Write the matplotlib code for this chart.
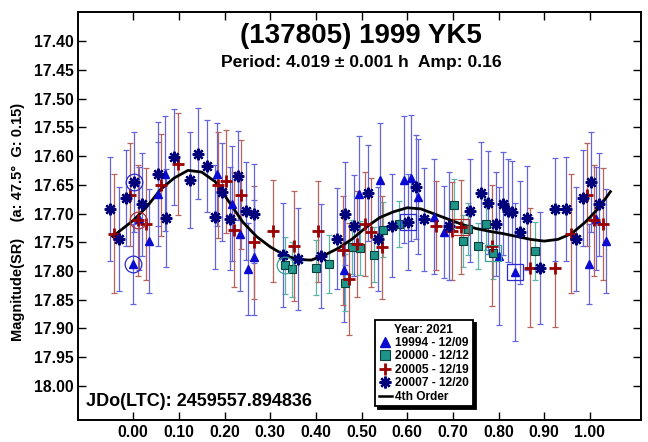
import numpy as np
import matplotlib
matplotlib.use("Agg")
import matplotlib.pyplot as plt
from matplotlib.lines import Line2D

plt.rcParams['font.family'] = ['Liberation Sans', 'DejaVu Sans']

# ---------------- data (phase, magnitude, error) ----------------
tri_phase = [0.013, 0.035, 0.054, 0.070, 0.184, 0.2155, 0.234, 0.252, 0.265, 0.4615,
             0.494, 0.541, 0.592, 0.6085, 0.623, 0.659, 0.680, 0.800, 0.836, 0.999]
tri_mag = [17.709, 17.748, 17.666, 17.631, 17.632, 17.683, 17.735, 17.797, 17.776, 17.798,
           17.666, 17.642, 17.641, 17.638, 17.671, 17.706, 17.733, 17.774, 17.802, 17.788]
tri_err = [0.09, 0.09, 0.09, 0.10, 0.09, 0.10, 0.10, 0.08, 0.10, 0.09,
           0.10, 0.10, 0.11, 0.11, 0.10, 0.10, 0.08, 0.12, 0.12, 0.07]

sq_phase = [0.332, 0.348, 0.400, 0.428, 0.463, 0.480, 0.496, 0.527, 0.5466, 0.581,
            0.703, 0.7214, 0.734, 0.7555, 0.772, 0.788, 0.880]
sq_mag = [17.790, 17.797, 17.794, 17.788, 17.820, 17.759, 17.760, 17.772, 17.728, 17.718,
          17.685, 17.748, 17.727, 17.756, 17.718, 17.769, 17.765]
sq_err = [0.050, 0.048, 0.048, 0.050, 0.050, 0.047, 0.047, 0.048, 0.048, 0.040,
          0.045, 0.045, 0.045, 0.040, 0.045, 0.045, 0.050]

plus_phase = [0.010, 0.028, 0.061, 0.097, 0.186, 0.203, 0.221, 0.237, 0.2655, 0.306,
              0.352, 0.4046, 0.459, 0.4716, 0.490, 0.507, 0.521, 0.544, 0.663, 0.699,
              0.717, 0.7846, 0.869, 0.924, 0.9585, 0.9934]
plus_mag = [17.712, 17.718, 17.650, 17.614, 17.650, 17.644, 17.728, 17.667, 17.750, 17.730,
            17.756, 17.731, 17.764, 17.814, 17.753, 17.718, 17.733, 17.759, 17.721, 17.730,
            17.724, 17.756, 17.794, 17.795, 17.735, 17.667]
plus_err = [0.097, 0.098, 0.089, 0.088, 0.092, 0.090, 0.100, 0.095, 0.098, 0.089,
            0.096, 0.088, 0.095, 0.097, 0.092, 0.090, 0.095, 0.089, 0.078, 0.085,
            0.082, 0.105, 0.104, 0.103, 0.104, 0.090]

ast_phase = [0.002, 0.019, 0.054, 0.071, 0.090, 0.124, 0.141, 0.161, 0.178, 0.195,
             0.212, 0.2285, 0.246, 0.264, 0.327, 0.361, 0.412, 0.446, 0.463, 0.4825,
             0.514, 0.536, 0.566, 0.601, 0.6194, 0.6376, 0.692, 0.738, 0.761, 0.778,
             0.7955, 0.810, 0.8217, 0.8297, 0.8465, 0.863, 0.891, 0.924, 0.948, 0.969, 0.985]
ast_mag = [17.645, 17.684, 17.631, 17.708, 17.602, 17.642, 17.596, 17.617, 17.706, 17.663,
           17.709, 17.634, 17.695, 17.700, 17.772, 17.779, 17.774, 17.744, 17.700, 17.721,
           17.664, 17.744, 17.721, 17.715, 17.654, 17.710, 17.721, 17.695, 17.664, 17.681,
           17.718, 17.683, 17.695, 17.698, 17.733, 17.708, 17.795, 17.693, 17.692, 17.744, 17.673]
ast_err = [0.087, 0.090, 0.090, 0.085, 0.084, 0.084, 0.079, 0.080, 0.090, 0.085,
           0.090, 0.078, 0.085, 0.086, 0.090, 0.089, 0.090, 0.088, 0.090, 0.088,
           0.083, 0.090, 0.089, 0.083, 0.090, 0.090, 0.094, 0.090, 0.088, 0.090,
           0.091, 0.090, 0.090, 0.090, 0.090, 0.090, 0.097, 0.090, 0.090, 0.090, 0.084]

# 4th order fit curve
fit_phase = [-0.045, 0.0, 0.03, 0.06, 0.09, 0.12, 0.15, 0.18, 0.21, 0.24, 0.27, 0.30,
             0.33, 0.36, 0.39, 0.42, 0.45, 0.48, 0.51, 0.54, 0.57, 0.60, 0.63, 0.66,
             0.69, 0.72, 0.75, 0.78, 0.81, 0.84, 0.87, 0.90, 0.93, 0.96, 0.99, 1.02, 1.045]
fit_mag = [17.740, 17.712, 17.688, 17.658, 17.638, 17.625, 17.628, 17.645, 17.680, 17.715,
           17.740, 17.758, 17.772, 17.780, 17.781, 17.772, 17.760, 17.744, 17.724, 17.707,
           17.697, 17.690, 17.692, 17.701, 17.710, 17.719, 17.726, 17.731, 17.735, 17.740,
           17.745, 17.748, 17.745, 17.735, 17.715, 17.690, 17.662]

# session start (circled) / end (boxed) markers
circ_x = [-0.001, 0.002, 0.010, 0.332]
circ_y = [17.788, 17.645, 17.712, 17.790]
circ_c = ['#2a2ad0', '#2a2ad0', '#b03030', '#3aa090']
box_x = [0.601, 0.836, 0.717, 0.788]
box_y = [17.715, 17.802, 17.724, 17.769]
box_c = ['#2a2ad0', '#2a2ad0', '#b03030', '#3aa090']

x_ticks = [0.0, 0.1, 0.2, 0.3, 0.4, 0.5, 0.6, 0.7, 0.8, 0.9, 1.0]
y_ticks = [17.40, 17.45, 17.50, 17.55, 17.60, 17.65, 17.70, 17.75, 17.80, 17.85, 17.90, 17.95, 18.00]

legend_labels = ['19994 - 12/09', '20000 - 12/12', '20005 - 12/19', '20007 - 12/20', '4th Order']


def wrap(ph, mag, err, lo=-0.055, hi=1.05):
    xs, ys, es = [], [], []
    for p, m, e in zip(ph, mag, err):
        for s in (-1, 0, 1):
            q = p + s
            if lo <= q <= hi:
                xs.append(q); ys.append(m); es.append(e)
    return xs, ys, es


fig = plt.figure(figsize=(6.48, 4.42), dpi=100)
ax_top, ax_bot = 12, 420
ax = fig.add_axes([78 / 648, 1 - ax_bot / 442, (641 - 78) / 648, (ax_bot - ax_top) / 442])

blue_m = '#0a0ad0'
navy_m = '#00007a'
red_m = '#9a0000'
teal_f = '#1f958a'
teal_e = '#0b3f3a'
blue_e = '#6464dc'
red_e = '#b8645a'
teal_eb = '#5cb6a8'

series = [
    (tri_phase, tri_mag, tri_err, blue_e),
    (sq_phase, sq_mag, sq_err, teal_eb),
    (plus_phase, plus_mag, plus_err, red_e),
    (ast_phase, ast_mag, ast_err, blue_e),
]
wrapped = []
for ph, mg, er, ec in series:
    xs, ys, es = wrap(ph, mg, er)
    wrapped.append((xs, ys))
    ax.errorbar(xs, ys, yerr=es, fmt='none', ecolor=ec, elinewidth=0.9,
                capsize=2.4, capthick=0.9, zorder=2)

ax.plot(fit_phase, fit_mag, color='black', lw=2.0, zorder=3)

(tx, ty), (sx, sy), (px, py), (ax_, ay) = wrapped
ax.plot(tx, ty, ls='none', marker='^', ms=6.2, color=blue_m, mec=blue_m, zorder=4)
ax.plot(sx, sy, ls='none', marker='s', ms=6.3, mfc=teal_f, mec=teal_e, mew=0.8, zorder=4)
ax.plot(px, py, ls='none', marker='+', ms=8.5, color=red_m, mew=2.0, zorder=4)
ax.plot(ax_, ay, ls='none', marker=(8, 2, 0), ms=8.3, color=navy_m, mew=1.7, zorder=5)

for x, y, c in zip(circ_x, circ_y, circ_c):
    ax.plot([x], [y], ls='none', marker='o', ms=12, mfc='none', mec=c, mew=0.9, zorder=5)
for x, y, c in zip(box_x, box_y, box_c):
    ax.plot([x], [y], ls='none', marker='s', ms=12, mfc='none', mec=c, mew=0.9, zorder=5)

# axis limits such that 17.40 sits at y=41 px and 18.00 at y=386 px
ppu = (386 - 41) / 0.60
ax.set_xlim(-0.121, 1.112)
ax.set_ylim(18.00 + (ax_bot - 386) / ppu, 17.40 - (41 - ax_top) / ppu)
ax.set_xticks(x_ticks)
ax.set_xticklabels(['%.2f' % v for v in x_ticks], fontweight='bold', fontsize=11.3)
ax.set_yticks(y_ticks)
ax.set_yticklabels(['%.2f' % v for v in y_ticks], fontweight='bold', fontsize=11.3)
ax.tick_params(axis='both', direction='in', top=True, right=True, length=5.5, width=1.0)
ax.tick_params(axis='x', pad=3.5)
ax.tick_params(axis='y', pad=3)
for sp in ax.spines.values():
    sp.set_linewidth(1.4)

fig.text(361 / 648, 1 - 36 / 442, '(137805) 1999 YK5', ha='center', va='center',
         fontsize=20, fontweight='bold')
fig.text(361 / 648, 1 - 62 / 442, 'Period: 4.019 \u00b1 0.001 h  Amp: 0.16', ha='center',
         va='center', fontsize=12.6, fontweight='bold')
fig.text(18 / 648, 1 - 222 / 442, 'Magnitude(SR)    (a: 47.5\u00b0  G: 0.15)', rotation=90,
         ha='center', va='center', fontsize=10.5, fontweight='bold')
fig.text(86 / 648, 1 - 402 / 442, 'JDo(LTC): 2459557.894836', ha='left', va='center',
         fontsize=13, fontweight='bold')

handles = [
    Line2D([], [], ls='none', marker='^', ms=6.5, color=blue_m),
    Line2D([], [], ls='none', marker='s', ms=6.5, mfc=teal_f, mec=teal_e, mew=0.8),
    Line2D([], [], ls='none', marker='+', ms=8.5, color=red_m, mew=2.0),
    Line2D([], [], ls='none', marker=(8, 2, 0), ms=8.5, color=navy_m, mew=1.7),
    Line2D([], [], color='black', lw=1.8),
]
leg = fig.legend(handles, legend_labels, title='Year: 2021', loc='upper left',
                 bbox_to_anchor=(375 / 648, 1 - 320 / 442), frameon=True, fancybox=False,
                 shadow={'color': 'black', 'alpha': 1.0}, edgecolor='black', framealpha=1,
                 prop={'weight': 'bold', 'size': 8.6},
                 title_fontproperties={'weight': 'bold', 'size': 8.6},
                 handlelength=1.1, handletextpad=0.3, labelspacing=0.12, borderpad=0.3,
                 borderaxespad=0)
leg.get_frame().set_linewidth(1.3)

fig.savefig('out.png', dpi=100)
